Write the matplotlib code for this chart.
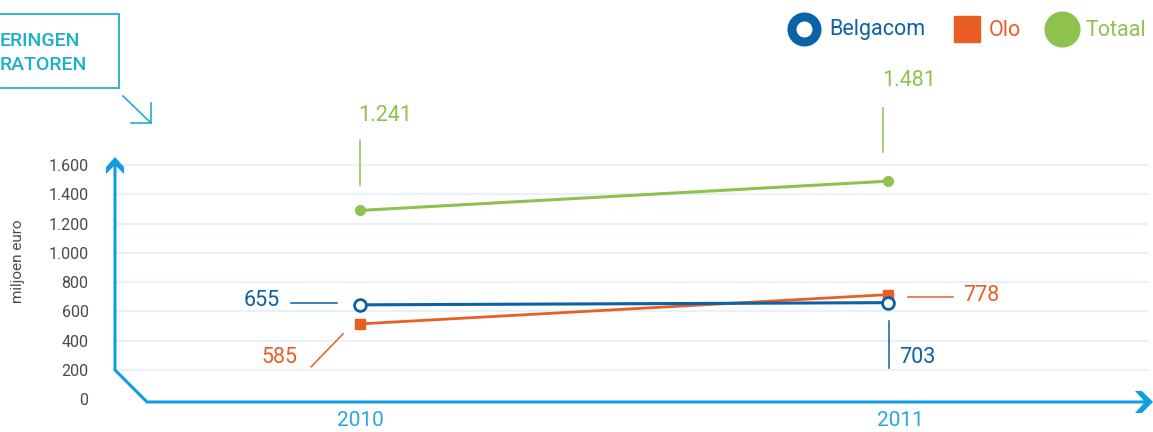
import matplotlib
matplotlib.use('Agg')
import matplotlib.pyplot as plt
from matplotlib.patches import Polygon, Rectangle
from matplotlib.transforms import ScaledTranslation

plt.rcParams['font.family'] = ['Roboto', 'DejaVu Sans']

# data
years = ['2010', '2011']
belgacom = [645, 660]
olo = [515, 715]
totaal = [1290, 1490]
belgacom_labels = ['655', '703']
olo_labels = ['585', '778']
totaal_labels = ['1.241', '1.481']
y_ticks = [0, 200, 400, 600, 800, 1000, 1200, 1400, 1600]
y_tick_labels = ['0', '200', '400', '600', '800', '1.000', '1.200', '1.400', '1.600']

# colours
AXIS = '#119ee0'
GRID = '#e6f1fa'
BLUE = '#0b62a4'
ORANGE = '#e95e25'
GREEN = '#8fc14f'
GRAY = '#4a4a4a'
CYAN = '#1eb0c8'

W, H = 1153, 432
fig = plt.figure(figsize=(W / 100, H / 100), dpi=100)

# main axes, placed so that 2010 -> x=360px, 2011 -> x=888px, 0 -> y=399px
ax = fig.add_axes([115 / W, (H - 402.2) / H, (1148 - 115) / W, 251.8 / H])
ax.set_xlim(-0.464, 1.492)
ax.set_ylim(-20, 1700)
ax.patch.set_alpha(0)
for s in ax.spines.values():
    s.set_visible(False)

x = list(range(len(years)))
ax.set_yticks(y_ticks)
ax.set_yticklabels(y_tick_labels, fontsize=11.5, color=GRAY)
ax.set_xticks(x)
ax.set_xticklabels(years, fontsize=15, color='#29a6e0')
ax.tick_params(axis='y', length=0, pad=19)
ax.tick_params(axis='x', length=0, pad=6)
lbl = ax.get_xticklabels()[1]
lbl.set_transform(lbl.get_transform() + ScaledTranslation(0.12, 0, fig.dpi_scale_trans))
ax.yaxis.grid(True, color=GRID, linewidth=1.6)
ax.yaxis.get_gridlines()[0].set_visible(False)
ax.set_axisbelow(True)

ax.plot(x, totaal, color=GREEN, linewidth=2.2, marker='o', markersize=7, zorder=3)
ax.plot(x, olo, color=ORANGE, linewidth=2, marker='s', markersize=7.5, zorder=4)
ax.plot(x, belgacom, color=BLUE, linewidth=2.2, marker='o', markersize=8.5,
        markerfacecolor='white', markeredgewidth=2, zorder=5)

fig.text(18 / W, 1 - 261 / H, 'miljoen euro', rotation=90, ha='center', va='center',
         fontsize=11, color=GRAY)

# overlay in pixel coords for decorations
deco = fig.add_axes([0, 0, 1, 1])
deco.set_xlim(0, W)
deco.set_ylim(H, 0)
deco.axis('off')
deco.patch.set_alpha(0)

# axis lines with chevrons
deco.plot([115, 115, 147, 1146], [163, 370, 402, 402], color=AXIS, linewidth=2.2,
          solid_joinstyle='miter')
deco.add_patch(Polygon([(115, 157), (124, 167), (124, 174), (115, 165), (106, 174), (106, 167)],
                       closed=True, color=AXIS, lw=0))
deco.add_patch(Polygon([(1153, 402), (1142, 391), (1135, 391), (1145, 402), (1135, 413), (1142, 413)],
                       closed=True, color=AXIS, lw=0))

# title box (cropped)
deco.add_patch(Rectangle((-5, 14), 124, 74, fill=False, edgecolor=CYAN, linewidth=1.3))
deco.text(0, 41, 'ERINGEN', fontsize=14, fontweight='medium', color=CYAN, va='center', ha='left')
deco.text(0, 65, 'RATOREN', fontsize=14, fontweight='medium', color=CYAN, va='center', ha='left')
deco.plot([123, 151], [96, 123], color=CYAN, linewidth=1.2)
deco.plot([131, 151, 151], [123, 123, 103], color=CYAN, linewidth=1.2)

# legend
deco.plot([804], [29], marker='o', markersize=18, markerfacecolor='white',
          markeredgecolor=BLUE, markeredgewidth=6.5, linestyle='none')
deco.text(829, 30, 'Belgacom', fontsize=15.5, color=BLUE, va='center', ha='left')
deco.plot([967], [29], marker='s', markersize=18.7, color=ORANGE, linestyle='none')
deco.text(989, 30, 'Olo', fontsize=15.5, color=ORANGE, va='center', ha='left')
deco.plot([1061.5], [29], marker='o', markersize=25, color=GREEN, linestyle='none')
deco.text(1085, 30, 'Totaal', fontsize=15.5, color=GREEN, va='center', ha='left')


def to_px(i, v):
    X, Y = ax.transData.transform((i, v))
    return X, H - Y


# leader lines and value labels: (segment offsets, label offset, alignment)
callouts = [
    (totaal, totaal_labels, GREEN,
     [((0, -70, 0, -25), (-2, -95), 'left'), ((-5, -73, -5, -29), (-6, -101), 'left')]),
    (belgacom, belgacom_labels, BLUE,
     [((-69, -2, -23, -2), (-80, -4), 'right'), ((1, 18, 1, 65), (11, 55), 'left')]),
    (olo, olo_labels, ORANGE,
     [((-49, 43, -17, 10), (-63, 34), 'right'), ((20, 2, 65, 2), (75, 1), 'left')]),
]
for values, labels, color, styles in callouts:
    for i, (v, text) in enumerate(zip(values, labels)):
        (dx1, dy1, dx2, dy2), (tx, ty), ha = styles[i]
        px, py = to_px(i, v)
        deco.plot([px + dx1, px + dx2], [py + dy1, py + dy2], color=color, linewidth=1.1)
        deco.text(px + tx, py + ty, text, fontsize=15.5, color=color, ha=ha, va='center')

fig.savefig('out.png', dpi=100)
